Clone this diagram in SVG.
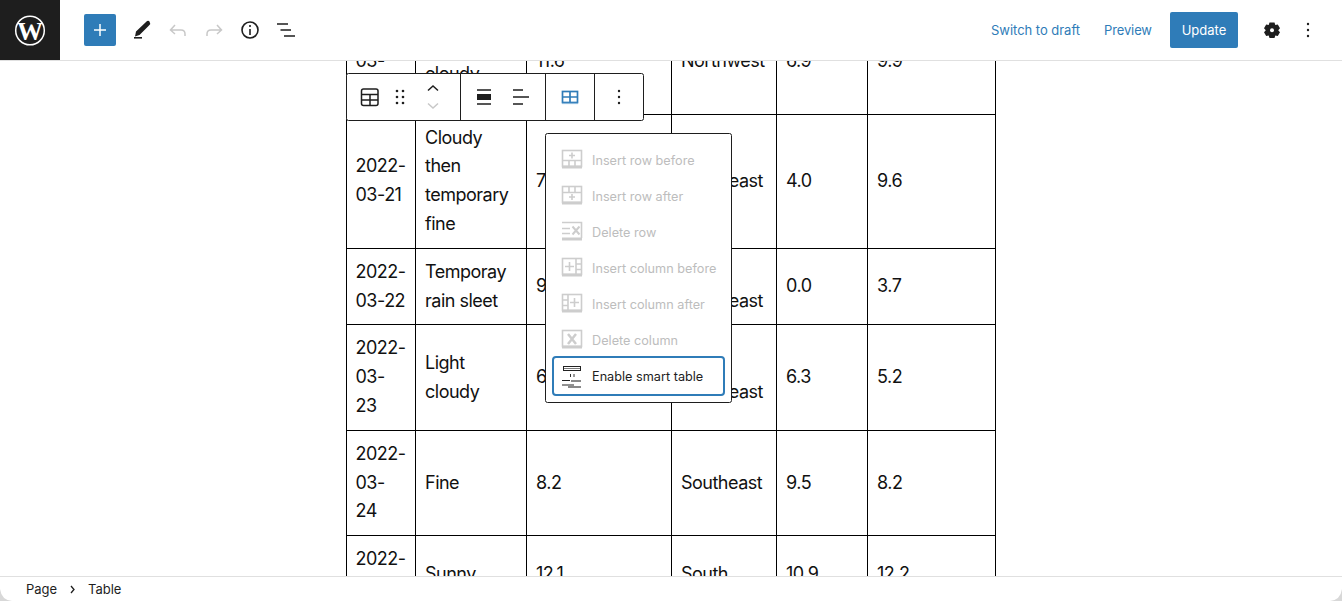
<svg xmlns="http://www.w3.org/2000/svg" width="1342" height="601" viewBox="0 0 1342 601">
<style>
text{font-family:"Inter","Liberation Sans",sans-serif}
.c{font-size:18px;fill:#111;letter-spacing:-.5px}
.g{fill:none;stroke:#000;stroke-width:1}
.d{font-size:12.7px;fill:#bdbdbd}
.i{fill:none;stroke:#cdcdcd;stroke-width:1.600}
.ib{fill:#cdcdcd}
.t{fill:#1e1e1e}
.s{fill:none;stroke:#1e1e1e;stroke-width:1.500}
.l{font-size:13px;fill:#2f7cb8}
.f{font-size:13px;fill:#1e1e1e}
</style>
<rect width="1342" height="601" fill="#fff"/>
<g id="table">
<path class="g" d="M346.500 60V576M415.500 60V576M526.500 60V576M671.500 60V576M776.500 60V576M867.500 60V576M995.500 60V576M347 114.500H996M347 248.500H996M347 324.500H996M347 430.500H996M347 535.500H996"/>
<g class="c">
<text x="355.500" y="67">03-</text><text x="425" y="80">cloudy</text><text x="536" y="67">11.6</text><text x="681" y="67">Northwest</text><text x="786" y="67">6.9</text><text x="877" y="67">9.9</text>
<text x="355.500" y="172">2022-</text><text x="355.500" y="201">03-21</text>
<text x="425" y="144">Cloudy</text><text x="425" y="172">then</text><text x="425" y="201">temporary</text><text x="425" y="230">fine</text>
<text x="536" y="187">7</text><text x="763" y="187" text-anchor="end">east</text><text x="786" y="187">4.0</text><text x="877" y="187">9.6</text>
<text x="355.500" y="278">2022-</text><text x="355.500" y="307">03-22</text>
<text x="425" y="278">Temporay</text><text x="425" y="307">rain sleet</text>
<text x="536" y="292">9</text><text x="763" y="307" text-anchor="end">east</text><text x="786" y="292">0.0</text><text x="877" y="292">3.7</text>
<text x="355.500" y="354">2022-</text><text x="355.500" y="383">03-</text><text x="355.500" y="412">23</text>
<text x="425" y="369">Light</text><text x="425" y="398">cloudy</text>
<text x="536" y="383">6</text><text x="763" y="398" text-anchor="end">east</text><text x="786" y="383">6.3</text><text x="877" y="383">5.2</text>
<text x="355.500" y="460">2022-</text><text x="355.500" y="489">03-</text><text x="355.500" y="517">24</text>
<text x="425" y="489">Fine</text><text x="536" y="489">8.2</text><text x="681" y="489">Southeast</text><text x="786" y="489">9.5</text><text x="877" y="489">8.2</text>
<text x="355.500" y="565">2022-</text><text x="425" y="580">Sunny</text><text x="536" y="580">12.1</text><text x="681" y="580">South</text><text x="786" y="580">10.9</text><text x="877" y="580">12.2</text>
</g>
</g>
<g id="topbar">
<rect width="1342" height="60" fill="#fff"/>
<path d="M0 60.500H1342" stroke="#e0e0e0"/>
<rect width="60" height="60" fill="#1e1e1e"/>
<circle cx="30" cy="30.500" r="14.300" fill="none" stroke="#fff" stroke-width="1.500"/>
<text x="30" y="39.500" font-size="26" font-weight="700" text-anchor="middle" fill="#fff" style="font-family:'Liberation Serif',serif">W</text>
<rect x="84" y="14" width="32" height="32" rx="2" fill="#2f7cb8"/>
<path d="M100 24V36M94 30H106" stroke="#fff" stroke-width="1.500"/>
<path d="M136 31.500L146 22Q148 20 149.500 21.500Q151 23.500 149 25.500L139.500 35L135 36.500Z" class="t"/><path d="M134 37.800H142" stroke="#1e1e1e" stroke-width="1.600"/>
<path d="M175 25L170.500 30L175 34M171 30H181Q185 30 185 34V36" fill="none" stroke="#c8c8c8" stroke-width="1.500"/>
<path d="M217 25L221.500 30L217 34M221 30H211Q207 30 207 34V36" fill="none" stroke="#c8c8c8" stroke-width="1.500"/>
<circle cx="250" cy="30" r="8" fill="none" stroke="#1e1e1e" stroke-width="1.600"/><path d="M250 29V35M250 25V27" stroke="#1e1e1e" stroke-width="1.600"/>
<path d="M277 24H288M280.500 30H291M284 36H295" stroke="#1e1e1e" stroke-width="1.600"/>
<text x="991" y="35" class="l" textLength="89">Switch to draft</text>
<text x="1104" y="35" class="l" textLength="48">Preview</text>
<rect x="1170" y="12" width="68" height="36" rx="2" fill="#2f7cb8"/>
<text x="1204" y="35" font-size="13" fill="#fff" text-anchor="middle">Update</text>
<path d="M1269.500 22.500H1274.500L1275.300 25L1277.800 24.400L1280 28.200L1278.200 30.200L1280 32.200L1277.800 36L1275.300 35.400L1274.500 38H1269.500L1268.700 35.400L1266.200 36L1264 32.200L1265.800 30.200L1264 28.200L1266.200 24.400L1268.700 25Z" class="t"/><circle cx="1272" cy="30.200" r="2" fill="#fff"/>
<circle cx="1308" cy="24" r="1.200" class="t"/><circle cx="1308" cy="30" r="1.200" class="t"/><circle cx="1308" cy="36" r="1.200" class="t"/>
</g>
<g id="block-toolbar">
<rect x="346.500" y="73.500" width="297" height="47" rx="2" fill="#fff" stroke="#1e1e1e"/>
<path d="M460.500 74V120M545.500 74V120M594.500 74V120" stroke="#1e1e1e"/>
<rect x="361.500" y="89" width="16.500" height="16.500" rx="2" class="s"/><path d="M362 94.500H378M362 100H378M370 94.500V105" class="s"/>
<g class="t"><circle cx="397" cy="91" r="1.300"/><circle cx="403" cy="91" r="1.300"/><circle cx="397" cy="97" r="1.300"/><circle cx="403" cy="97" r="1.300"/><circle cx="397" cy="103" r="1.300"/><circle cx="403" cy="103" r="1.300"/></g>
<path d="M428 90.500L433 86L438 90.500" class="s"/><path d="M428 103.500L433 108L438 103.500" fill="none" stroke="#c8c8c8" stroke-width="1.500"/>
<path d="M477 90H491M477 104H491" class="s"/><rect x="477" y="94" width="14" height="6" class="t"/>
<path d="M513 90H523M513 97H529M513 104H523" class="s"/>
<g fill="none" stroke="#2f7cb8" stroke-width="1.700"><rect x="562.500" y="91.500" width="15" height="11"/><path d="M570 92V102M563 97H577"/></g><path d="M562 103.500H578" stroke="#8fbbdc" stroke-width="1.200"/>
<g class="t"><circle cx="619" cy="91" r="1.200"/><circle cx="619" cy="97" r="1.200"/><circle cx="619" cy="103" r="1.200"/></g>
</g>
<g id="dropdown">
<rect x="545.500" y="133.500" width="186" height="269" rx="2" fill="#fff" stroke="#1e1e1e"/>
<text x="592" y="165" class="d">Insert row before</text>
<text x="592" y="201" class="d">Insert row after</text>
<text x="592" y="237" class="d">Delete row</text>
<text x="592" y="273" class="d">Insert column before</text>
<text x="592" y="309" class="d">Insert column after</text>
<text x="592" y="345" class="d">Delete column</text>
<g id="icon-row-before"><rect x="562.500" y="150.500" width="19" height="16" class="i"/><path d="M563 160.500H581M569 161V166M575 161V166M572 152.500V158.500M569 155.500H575" class="i"/><rect x="562" y="165.500" width="20" height="3" class="ib"/></g>
<g id="icon-row-after"><rect x="562.500" y="186.500" width="19" height="16" class="i"/><path d="M563 192.500H581M569 187V192M575 187V192M572 194V200M569 197H575" class="i"/><rect x="562" y="201.500" width="20" height="3" class="ib"/></g>
<g id="icon-del-row"><path d="M562 222.500H581.500V238M562 228.500H570M562 233.500H570" class="i"/><path d="M572.500 226.500L579.500 234.500M579.500 226.500L572.500 234.500" stroke="#cdcdcd" stroke-width="2" fill="none"/><rect x="562" y="237.500" width="20" height="3" class="ib"/></g>
<g id="icon-col-before"><rect x="562.500" y="258.500" width="19" height="16" class="i"/><path d="M576 259V274M576 264H581M576 269.500H581M565 266.500H574M569.500 262V271" class="i"/><rect x="562" y="273.500" width="20" height="3" class="ib"/></g>
<g id="icon-col-after"><rect x="562.500" y="294.500" width="19" height="16" class="i"/><path d="M568 295V310M563 300H568M563 305.500H568M570 302.500H579M574.500 298V307" class="i"/><rect x="562" y="309.500" width="20" height="3" class="ib"/></g>
<g id="icon-del-col"><rect x="562.500" y="330.500" width="19" height="16" class="i"/><path d="M568 334L576 344M576 334L568 344" stroke="#cdcdcd" stroke-width="2.500" fill="none"/><rect x="562" y="345.500" width="20" height="3" class="ib"/></g>
<rect x="553" y="357" width="171" height="38" rx="3" fill="#fff" stroke="#2f7cb8" stroke-width="2"/>
<text x="592" y="381" font-size="12.700" fill="#1e1e1e">Enable smart table</text>
<g id="icon-smart"><rect x="563.500" y="366.500" width="17" height="4" fill="none" stroke="#222"/><path d="M563 368.500H581" stroke="#222" stroke-width=".6"/><path d="M570.500 374V377M574 374V377" stroke="#333"/><path d="M562 380.500H570M562 385H574" stroke="#222" stroke-width="1"/><path d="M571 381H581M568 387H581" stroke="#8a8a8a" stroke-width="2"/></g>
</g>
<g id="footer">
<rect y="576" width="1342" height="25" fill="#fff"/>
<path d="M0 576.500H1342" stroke="#e0e0e0"/>
<text x="26" y="594" class="f">Page</text>
<path d="M71 586L74 589.500L71 593" fill="none" stroke="#1e1e1e" stroke-width="1.300"/>
<text x="88" y="594" class="f">Table</text>
<path d="M0 589V601H12Q1.500 600 0 589Z" fill="#d8d8d8"/>
<path d="M1342 589V601H1330Q1340.500 600 1342 589Z" fill="#d8d8d8"/>
</g>
</svg>
